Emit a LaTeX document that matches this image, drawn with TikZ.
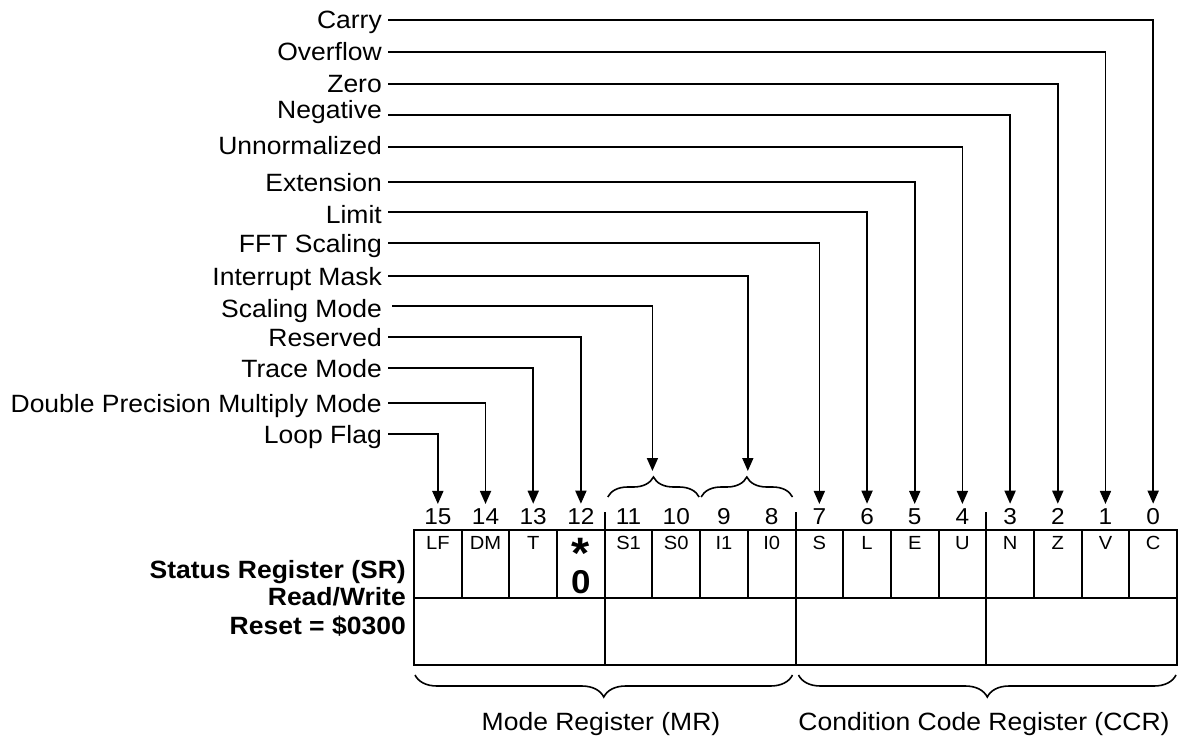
\documentclass[tikz,border=0pt]{standalone}
\usepackage{fontspec}
\setmainfont{Liberation Sans}[FakeStretch=1.06]
\usetikzlibrary{decorations.pathreplacing,arrows.meta}
\begin{document}
\begin{tikzpicture}[x=1pt,y=-1pt,
  boxline/.style={line width=2pt},
  arr/.style={line width=1.6pt,-{Triangle[length=13pt,width=11pt]}},
  lab/.style={anchor=east,inner xsep=6pt,inner ysep=0pt,text height=18pt,text depth=0pt,font=\fontsize{25}{25}\selectfont},
  num/.style={anchor=base,inner xsep=0pt,inner ysep=4pt,font=\fontsize{23}{23}\selectfont},
  celltxt/.style={anchor=base,inner sep=0pt,font=\fontsize{19}{19}\selectfont},
  srtxt/.style={anchor=base east,inner sep=0pt,font=\fontsize{25}{25}\selectfont\bfseries},
  bigtxt/.style={anchor=base,inner sep=0pt,font=\fontsize{33}{33}\selectfont\bfseries},
  startxt/.style={anchor=south,inner sep=0pt,font=\fontsize{44}{44}\selectfont\bfseries},
  regtxt/.style={anchor=base,inner sep=0pt,font=\fontsize{25}{25}\selectfont},
  brc/.style={decorate,line width=1.6pt,decoration={brace,amplitude=#1}}
]
\useasboundingbox (0,0) rectangle (1182,741);
\pgfmathsetmacro{\cw}{(1177-414)/16}
% register box
\draw[boxline] (414,530) rectangle (1177,665);
\draw[boxline] (414,598) -- (1177,598);
\foreach \k in {1,2,3,5,6,7,9,10,11,13,14,15}{
  \draw[boxline] ({414+round(\k*\cw)},530) -- ({414+round(\k*\cw)},598);
}
\foreach \k in {4,8,12}{
  \draw[boxline] ({414+round(\k*\cw)},512) -- ({414+round(\k*\cw)},665);
}
% bit numbers and cell texts
\foreach \b/\t in {15/LF,14/DM,13/T,11/S1,10/S0,9/I1,8/I0,7/S,6/L,5/E,4/U,3/N,2/Z,1/V,0/C}{
  \node[celltxt] (c\b) at ({414+(15-\b+0.5)*\cw},549) {\t};
}
\foreach \b in {0,...,15}{
  \node[num] (n\b) at ({414+(15-\b+0.5)*\cw},524) {\b};
}
\node[startxt] (ast) at ({414+3.5*\cw},550) {\raisebox{-0.42em}[0.3em][0pt]{*}};
\node[bigtxt] (zero) at ({414+3.5*\cw},593) {0};
% left register labels
\node[srtxt] (sr1) at (406,578) {Status Register (SR)};
\node[srtxt] (sr2) at (406,605) {Read/Write};
\node[srtxt] (sr3) at (406,634) {Reset = \$0300};
% top braces
\draw[brc=20pt] ({414+4*\cw+3},497) -- ({414+6*\cw-1},497);
\draw[brc=20pt] ({414+6*\cw+1},497) -- ({414+8*\cw-3},497);
\coordinate (bS) at ({414+5*\cw},471);
\coordinate (bI) at ({414+7*\cw},471);
% bottom braces
\draw[brc=22pt] ({414+8*\cw-3},675) -- (415,675);
\draw[brc=22pt] (1176,675) -- ({414+8*\cw+3},675);
\node[regtxt] (mr) at (601,730) {Mode Register (MR)};
\node[regtxt] (ccr) at (984,730) {Condition Code Register (CCR)};
% field labels
\node[lab] (lC) at (388,20) {Carry};
\node[lab] (lV) at (388,52) {Overflow};
\node[lab] (lZ) at (388,84) {Zero};
\node[lab] (lN) at (388,110) {Negative};
\node[lab] (lU) at (388,145) {Unnormalized};
\node[lab] (lE) at (388,182) {Extension};
\node[lab] (lL) at (388,214) {Limit};
\node[lab] (lS) at (388,243) {FFT Scaling};
\node[lab] (lI) at (388,276) {Interrupt Mask};
\node[lab] (lSM) at (388,308) {Scaling Mode};
\node[lab] (lR) at (388,337) {Reserved};
\node[lab] (lT) at (388,368) {Trace Mode};
\node[lab] (lDM) at (388,403) {Double Precision Multiply Mode};
\node[lab] (lLF) at (388,434) {Loop Flag};
% connectors
\draw[arr] (lC.east) -| (n0.north);
\draw[arr] (lV.east) -| (n1.north);
\draw[arr] (lZ.east) -| (n2.north);
\draw[arr] ([yshift=-5pt]lN.east) -| (n3.north);
\draw[arr] ([yshift=-2pt]lU.east) -| (n4.north);
\draw[arr] (lE.east) -| (n5.north);
\draw[arr] ([yshift=2pt]lL.east) -| (n6.north);
\draw[arr] (lS.east) -| (n7.north);
\draw[arr] (lI.east) -| (bI);
\draw[arr] ([xshift=4pt,yshift=2pt]lSM.east) -| (bS);
\draw[arr] (lR.east) -| (n12.north);
\draw[arr] (lT.east) -| (n13.north);
\draw[arr] (lDM.east) -| (n14.north);
\draw[arr] (lLF.east) -| (n15.north);
\end{tikzpicture}
\end{document}
